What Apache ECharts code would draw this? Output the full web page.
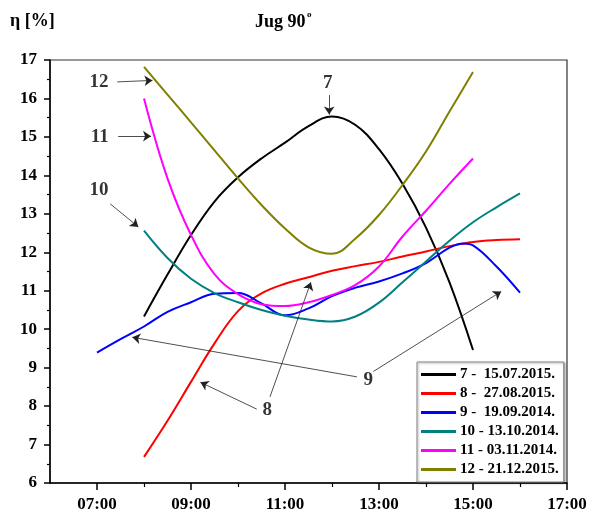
<!DOCTYPE html>
<html>
<head>
<meta charset="utf-8">
<script src="https://cdn.jsdelivr.net/npm/echarts@6/dist/echarts.min.js"></script>
<style>html,body{margin:0;padding:0;background:#fff}#c{width:590px;height:513px}</style>
</head>
<body>
<div id="c"></div>
<script>
// ---- data ----
const seriesNames = ['7 -  15.07.2015.', '8 -  27.08.2015.', '9 -  19.09.2014.', '10 - 13.10.2014.', '11 - 03.11.2014.', '12 - 21.12.2015.'];
const seriesColors = ['#000000', '#ff0000', '#0000ff', '#008080', '#ff00ff', '#808000'];

const hours7 = [8, 8.5, 9, 9.5, 10, 10.5, 11, 11.5, 12, 12.5, 13, 13.5, 14, 14.5, 15];
const values7 = [10.33, 11.42, 12.45, 13.32, 13.95, 14.44, 14.85, 15.28, 15.53, 15.31, 14.68, 13.78, 12.64, 11.22, 9.46];

const hours8 = [8, 8.5, 9, 9.5, 10, 10.5, 11, 11.5, 12, 12.5, 13, 13.5, 14, 14.5, 15, 15.5, 16];
const values8 = [6.68, 7.62, 8.63, 9.63, 10.47, 10.93, 11.18, 11.35, 11.52, 11.64, 11.75, 11.89, 12.02, 12.16, 12.27, 12.32, 12.34];

const hours9 = [7, 7.5, 8, 8.5, 9, 9.5, 10, 10.5, 11, 11.5, 12, 12.5, 13, 13.5, 14, 14.5, 14.8, 15, 15.5, 16];
const values9 = [9.39, 9.74, 10.07, 10.45, 10.70, 10.92, 10.94, 10.67, 10.36, 10.54, 10.86, 11.08, 11.24, 11.45, 11.72, 12.12, 12.23, 12.18, 11.63, 10.95];

const hours10 = [8, 8.5, 9, 9.5, 10, 10.5, 11, 11.5, 12, 12.5, 13, 13.5, 14, 14.5, 15, 15.5, 16];
const values10 = [12.56, 11.85, 11.31, 10.94, 10.70, 10.50, 10.35, 10.25, 10.20, 10.33, 10.69, 11.22, 11.76, 12.30, 12.78, 13.17, 13.53];

const hours11 = [8, 8.5, 9, 9.5, 10, 10.5, 11, 11.5, 12, 12.5, 13, 13.5, 14, 14.5, 15];
const values11 = [16.0, 13.92, 12.45, 11.43, 10.91, 10.65, 10.60, 10.70, 10.89, 11.15, 11.63, 12.41, 13.08, 13.78, 14.44];

const hours12 = [8, 8.5, 9, 9.5, 10, 10.5, 11, 11.5, 12, 12.5, 13, 13.5, 14, 14.5, 15];
const values12 = [16.82, 16.10, 15.38, 14.65, 13.92, 13.23, 12.62, 12.13, 11.96, 12.36, 12.97, 13.75, 14.62, 15.66, 16.69];

const xLabelValues = [7, 9, 11, 13, 15, 17];
const xMinorTickValues = [8, 10, 12, 14, 16];

// annotation labels [hour, value, text]
const annoLabels = [
  [7.04, 16.43, '12'],
  [7.06, 15.00, '11'],
  [7.04, 13.62, '10'],
  [11.91, 16.40, '7'],
  [10.62, 7.90, '8'],
  [12.77, 8.68, '9']
];
// annotation arrows [fromHour, fromValue, toHour, toValue]
const annoArrows = [
  [7.43, 16.43, 8.18, 16.47],
  [7.45, 15.02, 8.15, 15.02],
  [7.28, 13.26, 7.88, 12.66],
  [11.94, 16.09, 11.94, 15.58],
  [10.40, 7.92, 9.20, 8.62],
  [10.68, 8.24, 11.55, 11.22],
  [12.53, 8.76, 7.75, 9.79],
  [12.88, 8.90, 15.60, 10.98]
];

// ---- chart ----
const font = 'Liberation Serif';
const pairs = (h, v) => h.map((x, i) => [x, v[i]]);
const allData = [pairs(hours7, values7), pairs(hours8, values8), pairs(hours9, values9),
                 pairs(hours10, values10), pairs(hours11, values11), pairs(hours12, values12)];

const chart = echarts.init(document.getElementById('c'), null, {renderer: 'canvas'});
const fmtHour = v => (v < 10 ? '0' : '') + v + ':00';

const series = allData.map((d, i) => ({
  name: seriesNames[i],
  type: 'line',
  data: d,
  smooth: 0.4,
  symbol: 'none',
  lineStyle: {color: seriesColors[i], width: 2},
  itemStyle: {color: seriesColors[i]},
  z: 3
}));

series.push({
  name: 'annotations',
  type: 'scatter',
  data: annoLabels,
  symbolSize: 0,
  silent: true,
  label: {
    show: true, position: 'inside', formatter: p => p.value[2],
    fontFamily: font, fontWeight: 'bold', fontSize: 19, color: '#000'
  },
  markLine: {
    silent: true,
    symbol: ['none', 'arrow'],
    symbolSize: 8,
    label: {show: false},
    lineStyle: {color: '#222', width: 0.8, type: 'solid'},
    data: annoArrows.map(a => [{coord: [a[0], a[1]]}, {coord: [a[2], a[3]]}])
  },
  z: 5
});

chart.setOption({
  animation: false,
  backgroundColor: '#fff',
  grid: {left: 50, right: 23, top: 60, bottom: 30, show: true, borderColor: '#333', borderWidth: 1.2},
  xAxis: [{
    type: 'value', min: 6, max: 17, interval: 1,
    axisLine: {show: true, onZero: false, lineStyle: {color: '#000', width: 1.5}},
    axisTick: {show: true, length: 7, customValues: xLabelValues, lineStyle: {color: '#000', width: 1.5}},
    axisLabel: {customValues: xLabelValues, formatter: fmtHour, margin: 13,
      fontFamily: font, fontWeight: 'bold', fontSize: 17, color: '#000'},
    splitLine: {show: false}
  }, {
    type: 'value', min: 6, max: 17, interval: 1, position: 'bottom', gridIndex: 0,
    axisLine: {show: false},
    axisTick: {show: true, length: 4, customValues: xMinorTickValues, lineStyle: {color: '#000', width: 1.2}},
    axisLabel: {show: false},
    splitLine: {show: false}
  }],
  yAxis: {
    type: 'value', min: 6, max: 17, interval: 1,
    axisLine: {show: true, onZero: false, lineStyle: {color: '#000', width: 1.5}},
    axisTick: {show: true, length: 6, lineStyle: {color: '#000', width: 1.5}},
    minorTick: {show: true, splitNumber: 2, length: 3, lineStyle: {color: '#000', width: 1.2}},
    axisLabel: {margin: 13, fontFamily: font, fontWeight: 'bold', fontSize: 17, color: '#000'},
    splitLine: {show: false}
  },
  legend: {
    data: seriesNames,
    orient: 'vertical',
    left: 417, top: 362,
    padding: [4, 5, 4, 4],
    itemGap: 2,
    itemWidth: 35, itemHeight: 3,
    icon: 'rect',
    backgroundColor: '#fff',
    borderColor: '#888', borderWidth: 1,
    shadowColor: 'rgba(0,0,0,0.35)', shadowBlur: 2, shadowOffsetX: 1, shadowOffsetY: 1,
    textStyle: {fontFamily: font, fontWeight: 'bold', fontSize: 15, color: '#000', lineHeight: 17, padding: [0, 0, 0, -1]}
  },
  graphic: [
    {type: 'text', left: 10, top: 12, style: {text: 'η [%]', font: 'bold 18px "Liberation Serif"', fill: '#000'}},
    {type: 'text', left: 255, top: 13, style: {text: 'Jug 90', font: 'bold 18px "Liberation Serif"', fill: '#000'}},
    {type: 'text', left: 307, top: 10, style: {text: 'o', font: 'bold 9px "Liberation Serif"', fill: '#000'}}
  ],
  series: series
});
</script>
</body>
</html>
